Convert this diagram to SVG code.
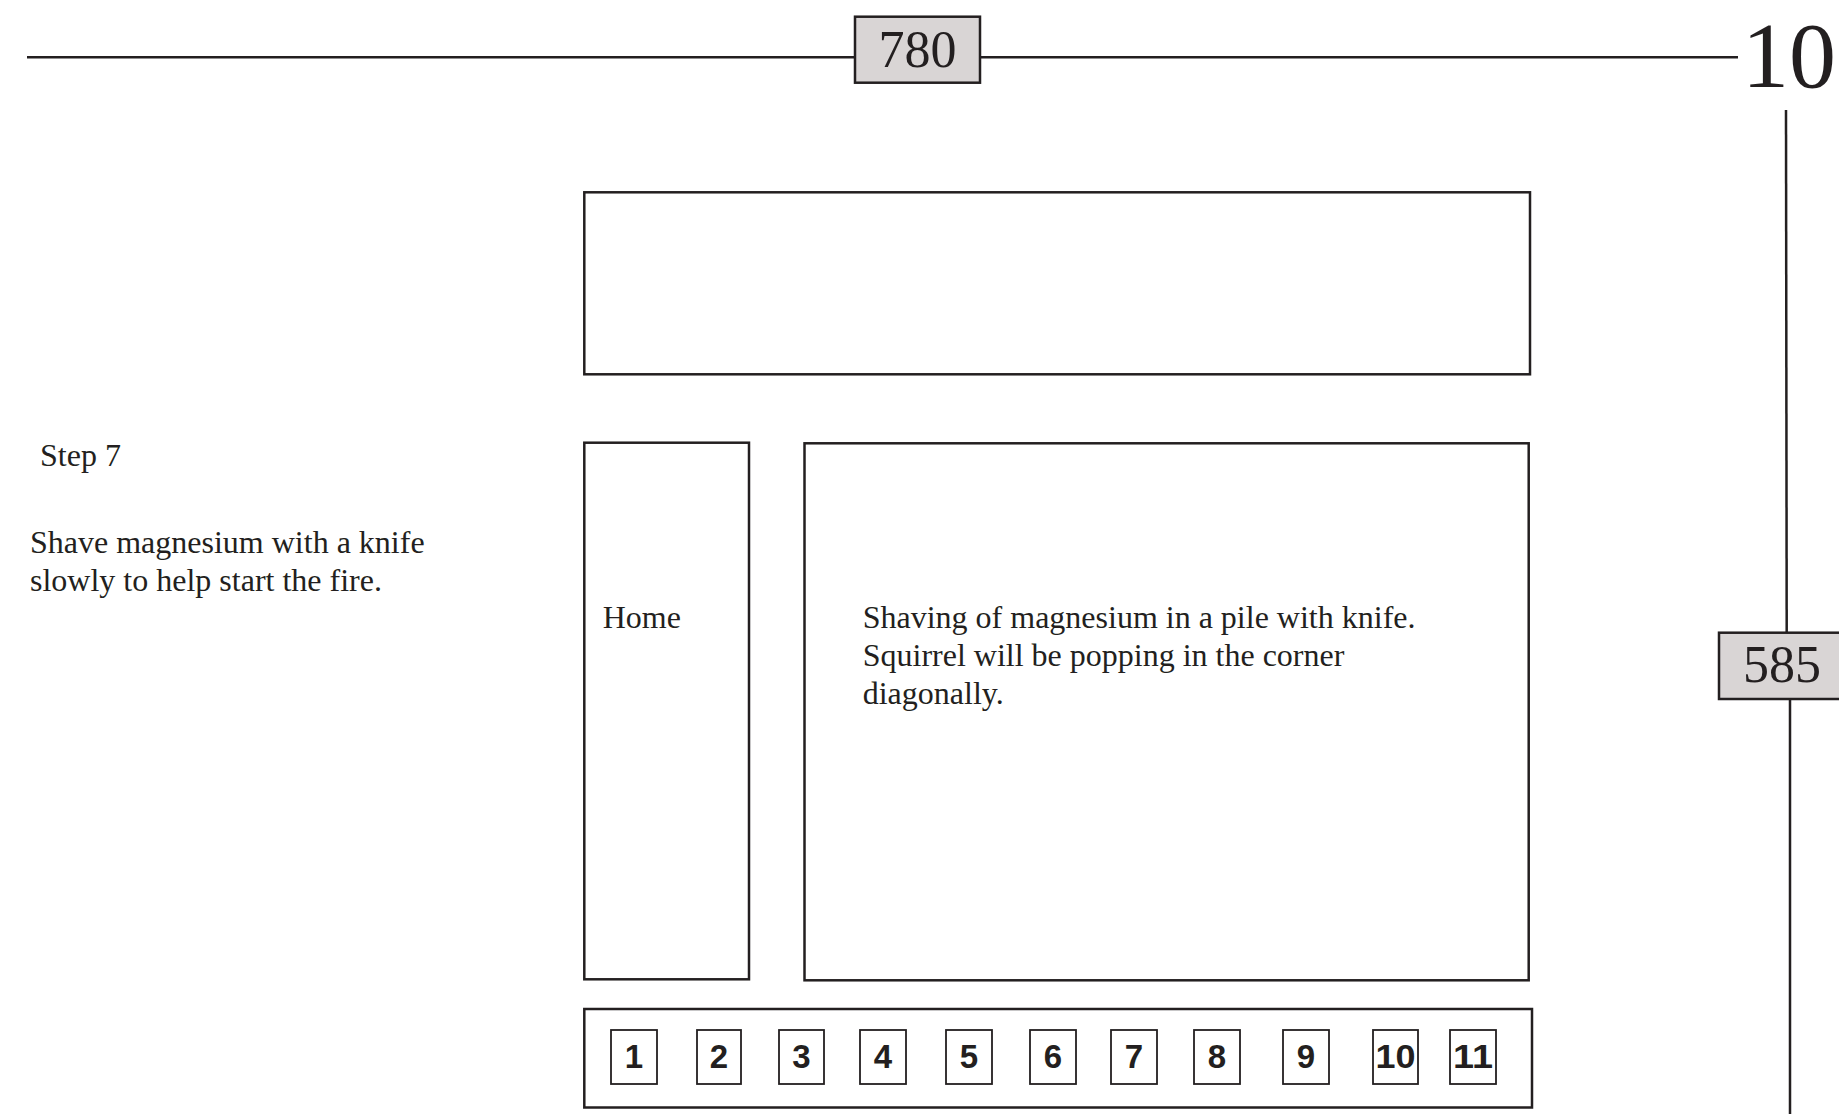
<svg xmlns="http://www.w3.org/2000/svg" width="1839" height="1114" viewBox="0 0 1839 1114">
<style>
.box{fill:#fff;stroke:#231f20;stroke-width:2.5}
.tag{fill:#d9d5d5;stroke:#231f20;stroke-width:2.5}
.ln{stroke:#231f20;stroke-width:2.5;fill:none}
.t{font-family:"Liberation Serif","Times New Roman",serif;fill:#231f20}
.nb{fill:#fff;stroke:#231f20;stroke-width:1.8}
.nt{font-family:"Liberation Sans",Arial,sans-serif;font-weight:bold;font-size:33px;fill:#231f20;text-anchor:middle}
</style>
<rect width="1839" height="1114" fill="#fff"/>
<g id="connectors">
<line class="ln" x1="27" y1="57.3" x2="855" y2="57.3"/>
<line class="ln" x1="980" y1="57.3" x2="1738" y2="57.3"/>
<line class="ln" x1="1786" y1="110" x2="1786.7" y2="633"/>
<line class="ln" x1="1790" y1="699" x2="1790" y2="1114"/>
</g>
<g id="dim-width">
<rect class="tag" x="855" y="16.7" width="125" height="66"/>
<text class="t" x="917.5" y="66.7" font-size="52" text-anchor="middle">780</text>
</g>
<g id="dim-corner">
<text class="t" x="1742" y="87" font-size="94">10</text>
</g>
<g id="dim-height">
<rect class="tag" x="1719" y="632.7" width="130" height="66.3"/>
<text class="t" x="1782" y="681.7" font-size="52" text-anchor="middle">585</text>
</g>
<g id="step-text">
<text class="t" x="40" y="466" font-size="32">Step 7</text>
<text class="t" x="30" y="553" font-size="32">Shave magnesium with a knife</text>
<text class="t" x="30" y="591" font-size="32">slowly to help start the fire.</text>
</g>
<g id="header">
<rect class="box" x="584.3" y="192.3" width="945.7" height="182"/>
</g>
<g id="home">
<rect class="box" x="584.3" y="442.7" width="164.7" height="536.6"/>
<text class="t" x="602.7" y="627.5" font-size="32">Home</text>
</g>
<g id="content">
<rect class="box" x="804.5" y="443.3" width="724.2" height="537"/>
<text class="t" x="862.7" y="627.5" font-size="32">Shaving of magnesium in a pile with knife.</text>
<text class="t" x="862.7" y="665.5" font-size="32">Squirrel will be popping in the corner</text>
<text class="t" x="862.7" y="704" font-size="32">diagonally.</text>
</g>
<g id="nav">
<rect class="box" x="584.3" y="1009" width="947.7" height="98.5"/>
<g id="n1"><rect class="nb" x="611" y="1030" width="46" height="54"/><text class="nt" x="634" y="1067.5">1</text></g>
<g id="n2"><rect class="nb" x="697" y="1030" width="44" height="54"/><text class="nt" x="719" y="1067.5">2</text></g>
<g id="n3"><rect class="nb" x="779" y="1030" width="45" height="54"/><text class="nt" x="801.5" y="1067.5">3</text></g>
<g id="n4"><rect class="nb" x="860" y="1030" width="46" height="54"/><text class="nt" x="883" y="1067.5">4</text></g>
<g id="n5"><rect class="nb" x="946" y="1030" width="46" height="54"/><text class="nt" x="969" y="1067.5">5</text></g>
<g id="n6"><rect class="nb" x="1030" y="1030" width="46" height="54"/><text class="nt" x="1053" y="1067.5">6</text></g>
<g id="n7"><rect class="nb" x="1111" y="1030" width="46" height="54"/><text class="nt" x="1134" y="1067.5">7</text></g>
<g id="n8"><rect class="nb" x="1194" y="1030" width="46" height="54"/><text class="nt" x="1217" y="1067.5">8</text></g>
<g id="n9"><rect class="nb" x="1283" y="1030" width="46" height="54"/><text class="nt" x="1306" y="1067.5">9</text></g>
<g id="n10"><rect class="nb" x="1373" y="1030" width="45" height="54"/><text class="nt" x="1395.5" y="1067.5" textLength="40" lengthAdjust="spacingAndGlyphs">10</text></g>
<g id="n11"><rect class="nb" x="1450" y="1030" width="46" height="54"/><text class="nt" x="1473" y="1067.5" textLength="40" lengthAdjust="spacingAndGlyphs">11</text></g>
</g>
</svg>
